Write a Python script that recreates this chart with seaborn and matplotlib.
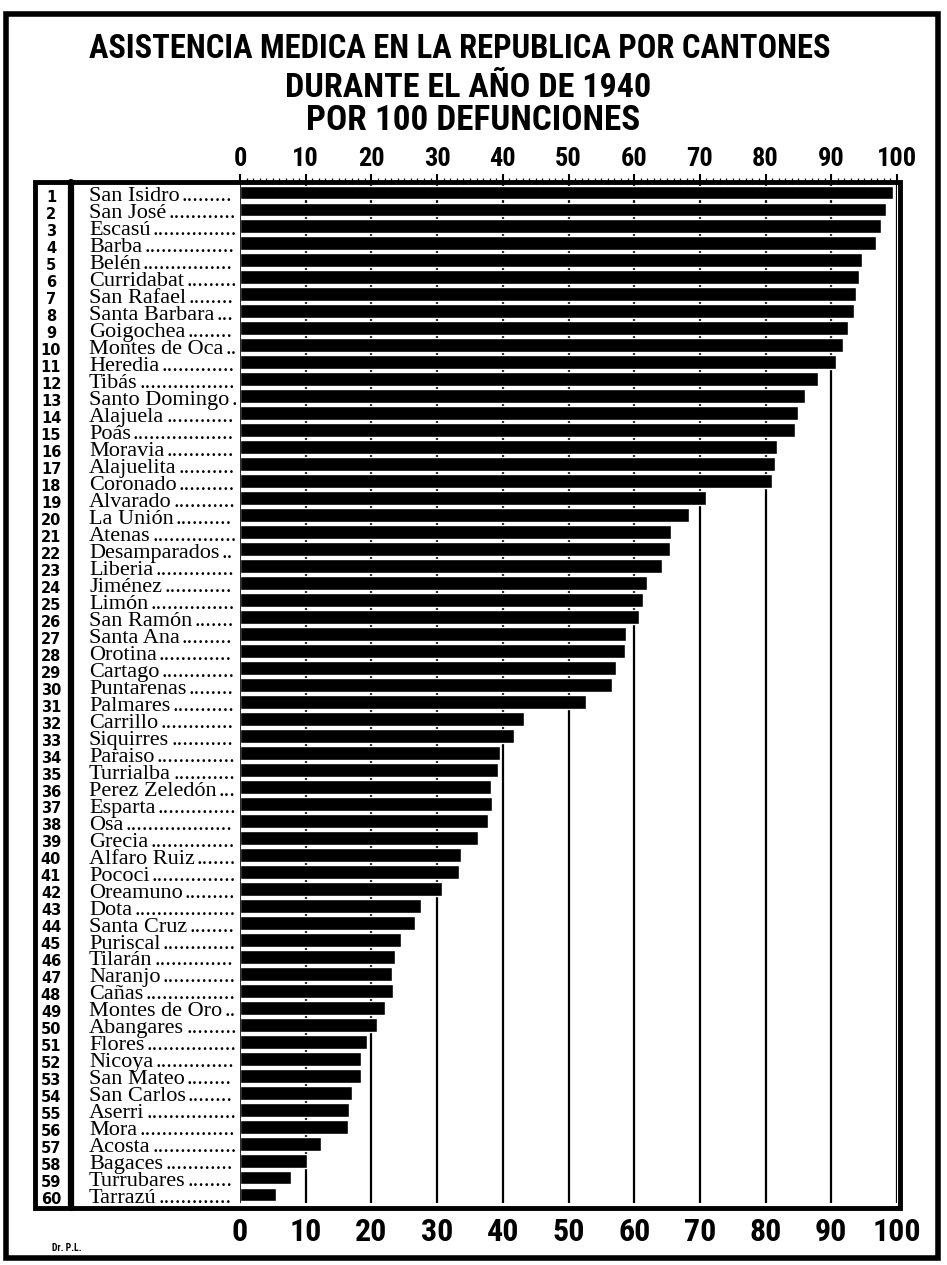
import matplotlib
matplotlib.use('Agg')
import matplotlib.pyplot as plt
import matplotlib.transforms as mtransforms
from matplotlib.patches import Rectangle
from matplotlib.lines import Line2D
import pandas as pd
import seaborn as sns

# Cantones in the order of the chart (1 .. 60)
cantones = [
    'San Isidro', 'San José', 'Escasú', 'Barba', 'Belén', 'Curridabat',
    'San Rafael', 'Santa Barbara', 'Goigochea', 'Montes de Oca', 'Heredia',
    'Tibás', 'Santo Domingo', 'Alajuela', 'Poás', 'Moravia', 'Alajuelita',
    'Coronado', 'Alvarado', 'La Unión', 'Atenas', 'Desamparados', 'Liberia',
    'Jiménez', 'Limón', 'San Ramón', 'Santa Ana', 'Orotina', 'Cartago',
    'Puntarenas', 'Palmares', 'Carrillo', 'Siquirres', 'Paraiso', 'Turrialba',
    'Perez Zeledón', 'Esparta', 'Osa', 'Grecia', 'Alfaro Ruiz', 'Pococi',
    'Oreamuno', 'Dota', 'Santa Cruz', 'Puriscal', 'Tilarán', 'Naranjo',
    'Cañas', 'Montes de Oro', 'Abangares', 'Flores', 'Nicoya', 'San Mateo',
    'San Carlos', 'Aserri', 'Mora', 'Acosta', 'Bagaces', 'Turrubares', 'Tarrazú',
]

# Asistencia medica por 100 defunciones
asistencia = [
    99.4, 98.3, 97.5, 96.8, 94.6, 94.2, 93.8, 93.4, 92.6, 91.8,
    90.7, 88.0, 86.0, 84.9, 84.4, 81.8, 81.5, 80.9, 71.0, 68.4,
    65.6, 65.4, 64.2, 62.0, 61.4, 60.8, 58.8, 58.6, 57.2, 56.6,
    52.6, 43.2, 41.7, 39.6, 39.2, 38.2, 38.3, 37.7, 36.2, 33.7,
    33.3, 30.7, 27.5, 26.7, 24.5, 23.6, 23.2, 23.3, 22.1, 20.9,
    19.4, 18.4, 18.4, 17.0, 16.6, 16.4, 12.3, 10.2, 7.8, 5.5,
]

numeros = list(range(1, len(cantones) + 1))
ticks = list(range(0, 101, 10))

titulo = ['ASISTENCIA MEDICA EN LA REPUBLICA POR CANTONES',
          'DURANTE EL AÑO DE 1940',
          'POR 100 DEFUNCIONES']

sns.set_style('white')
head_font = ['Roboto Condensed', 'Roboto', 'DejaVu Sans']
name_font = ['Liberation Serif', 'DejaVu Serif']
plt.rcParams['font.family'] = head_font
plt.rcParams['text.color'] = 'black'
plt.rcParams['xtick.color'] = 'black'
plt.rcParams['axes.labelcolor'] = 'black'

W, H = 947, 1265
fig = plt.figure(figsize=(W / 100, H / 100), dpi=100)


def fx(px):
    return px / W


def fy(py):
    return 1 - py / H


ax = fig.add_axes([fx(240), fy(1203), fx(897) - fx(240), fy(184) - fy(1203)])

df = pd.DataFrame({'Canton': cantones, 'Pct': asistencia})
sns.barplot(data=df, x='Pct', y='Canton', orient='h', color='black',
            saturation=1, width=0.82, ax=ax)

n = len(cantones)
ax.set_xlim(0, 100)
ax.set_ylim(n - 0.5, -0.5)
ax.vlines(ticks[1:], -0.5, n - 0.5, color='black', lw=1.6, zorder=0)
ax.axvline(0, color='black', lw=1.2)
ax.set_yticks([])
ax.set_ylabel('')
ax.set_xlabel('')
for s in ax.spines.values():
    s.set_visible(False)

# bottom ruler
ax.set_xticks(ticks)
ax.set_xticks(range(0, 101), minor=True)
ax.tick_params(axis='x', which='major', length=7, width=1.5, pad=3, labelsize=23)
ax.tick_params(axis='x', which='minor', length=4, width=0.9)
for lbl in ax.get_xticklabels():
    lbl.set_fontweight('bold')

# top ruler
sec = ax.secondary_xaxis('top')
sec.set_xticks(ticks)
sec.set_xticks(range(0, 101), minor=True)
sec.tick_params(axis='x', which='major', length=7, width=1.5, pad=2, labelsize=19)
sec.tick_params(axis='x', which='minor', length=4, width=0.9)
sec.spines['top'].set_visible(False)
for lbl in sec.get_xticklabels():
    lbl.set_fontweight('bold')

# frames
fig.add_artist(Rectangle((fx(35), fy(1208)), fx(900) - fx(35), fy(182) - fy(1208),
                         transform=fig.transFigure, fill=False, lw=3.5, ec='black'))
fig.add_artist(Line2D([fx(71), fx(71)], [fy(182), fy(1208)], lw=4.5, color='black'))
fig.add_artist(Rectangle((fx(6), fy(1258)), fx(938) - fx(6), fy(14) - fy(1258),
                         transform=fig.transFigure, fill=False, lw=4, ec='black'))

# row numbers and names
tr = mtransforms.blended_transform_factory(fig.transFigure, ax.transData)
name_texts = []
for i, (num, name) in enumerate(zip(numeros, cantones)):
    ax.text(fx(51), i + 0.3, str(num), transform=tr, ha='center', va='center',
            fontsize=10.5, fontweight='bold', family=['DejaVu Sans'])
    t = ax.text(fx(89), i + 0.25, name, transform=tr, ha='left', va='center',
                fontsize=16, family=name_font)
    name_texts.append(t)

# title: first line fitted to the width of the original lettering
t1 = fig.text(fx(460), fy(49), titulo[0], ha='center', va='center', fontsize=22, fontweight='bold')
fig.canvas.draw()
r = fig.canvas.get_renderer()
fs = 22 * 740 / t1.get_window_extent(r).width
t1.set_fontsize(fs)
fig.text(fx(468), fy(88), titulo[1], ha='center', va='center', fontsize=fs * 1.05, fontweight='bold')
fig.text(fx(473), fy(121), titulo[2], ha='center', va='center', fontsize=fs * 1.08, fontweight='bold')

# dot leaders up to the bars
probe = fig.text(0, 0, '.' * 20, fontsize=16, family=name_font)
dot_w = probe.get_window_extent(r).width / 20
probe.remove()
for i, t in enumerate(name_texts):
    x1 = t.get_window_extent(r).x1 + 2
    k = int((237 - x1) / dot_w)
    if k > 0:
        ax.text(x1 / W, i + 0.25, '.' * k, transform=tr, ha='left', va='center',
                fontsize=16, family=name_font)

fig.text(fx(52), fy(1248), 'Dr. P.L.', ha='left', va='center', fontsize=7, fontweight='bold')

fig.savefig('out.png', dpi=100, facecolor='white')
